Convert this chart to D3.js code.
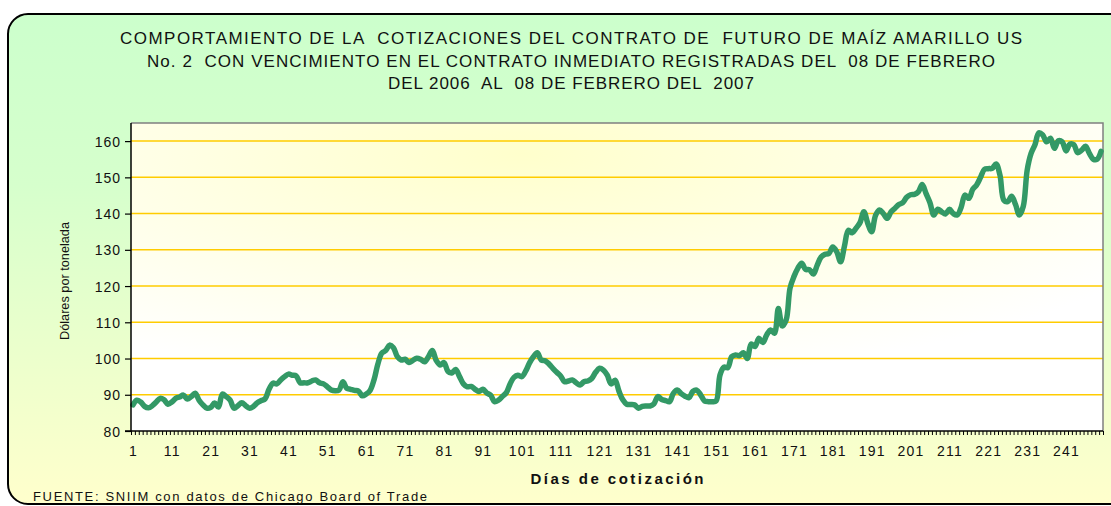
<!DOCTYPE html>
<html lang="es">
<head>
<meta charset="UTF-8">
<title>Cotizaciones maíz amarillo</title>
<style>
  body { margin: 0; overflow: hidden; background: #ffffff; }
  svg text { font-family: "Liberation Sans", Arial, sans-serif; fill: #111; white-space: pre; }
</style>
</head>
<body>
<div id="container"></div>
<script src="https://cdn.jsdelivr.net/npm/d3@7"></script>
<script>
// Title lines, as in the original chart
var titleLines = [
  "COMPORTAMIENTO DE LA  COTIZACIONES DEL CONTRATO DE  FUTURO DE MAÍZ AMARILLO US",
  "No. 2  CON VENCIMIENTO EN EL CONTRATO INMEDIATO REGISTRADAS DEL  08 DE FEBRERO",
  "DEL 2006  AL  08 DE FEBRERO DEL  2007"
];

// Price in dollars per tonne, one value per trading day
var prices = [
  87.2, 88.5, 88.0, 86.8, 86.4, 87.0, 88.0, 89.0, 88.6, 87.4,
  88.0, 89.0, 89.4, 89.9, 88.8, 89.5, 90.4, 88.5, 87.2, 86.3,
  86.5, 87.7, 86.6, 90.2, 89.5, 88.5, 86.3, 87.0, 87.8, 87.0,
  86.3, 86.8, 87.8, 88.4, 88.9, 91.5, 93.2, 93.0, 94.1, 95.0,
  95.7, 95.4, 95.2, 93.3, 93.3, 93.3, 93.8, 94.1, 93.3, 93.0,
  92.2, 91.3, 91.1, 91.3, 93.6, 91.8, 91.5, 91.2, 91.0, 89.7,
  90.2, 91.2, 94.1, 98.5, 101.5, 102.2, 103.7, 103.0, 100.5, 99.6,
  99.8, 98.9, 99.5, 100.1, 99.8, 99.1, 100.5, 102.2, 99.5, 98.2,
  98.9, 96.5, 96.0, 97.0, 95.0, 93.0, 92.2, 92.3, 91.5, 90.9,
  91.5, 90.5, 89.9, 88.1, 88.5, 89.5, 90.5, 93.0, 94.8, 95.4,
  95.0, 96.5, 98.8, 100.5, 101.6, 99.6, 99.4, 98.5, 97.3, 96.2,
  95.2, 93.6, 93.8, 94.1, 93.3, 92.7, 93.6, 93.8, 94.5, 96.2,
  97.3, 96.8, 95.4, 93.0, 94.0, 91.0, 88.6, 87.4, 87.3, 87.2,
  86.3, 86.8, 86.9, 86.9, 87.5, 89.5, 88.7, 88.4, 88.1, 90.4,
  91.3, 90.3, 89.6, 89.2, 90.9, 91.3, 90.0, 88.3, 88.1, 88.1,
  88.3, 95.5, 97.6, 97.5, 100.5, 101.0, 100.8, 101.6, 100.0, 104.0,
  103.3, 105.6, 104.4, 106.5, 107.9, 107.0, 113.8, 109.0, 110.6, 119.4,
  122.6, 124.9, 126.3, 124.6, 124.5, 123.3, 125.8, 128.0, 128.8, 129.0,
  130.8, 129.5, 126.7, 131.0, 135.4, 134.7, 136.0, 137.5, 140.5, 137.3,
  135.0, 139.5, 141.0, 140.0, 138.7, 140.5, 141.5, 142.5, 143.0, 144.5,
  145.2, 145.3, 146.0, 148.0, 145.5, 143.0, 139.6, 141.2, 140.5, 139.9,
  141.2, 140.0, 139.6, 141.7, 145.1, 144.2, 146.7, 147.9, 150.0, 152.2,
  152.4, 152.5, 153.7, 150.6, 143.7, 143.3, 144.8, 142.5, 139.6, 142.0,
  152.0, 156.6, 159.0, 162.3, 161.7, 159.8, 160.8, 158.0, 160.1, 159.8,
  157.3, 159.2, 159.0, 156.8, 157.5, 158.6, 156.6, 155.0, 155.0, 157.2
];
var days = prices.map(function (d, i) { return i + 1; });

var xTickLabels = [1, 11, 21, 31, 41, 51, 61, 71, 81, 91, 101, 111, 121,
  131, 141, 151, 161, 171, 181, 191, 201, 211, 221, 231, 241];
var yTicks = [80, 90, 100, 110, 120, 130, 140, 150, 160];

var width = 1111, height = 506;
var plot = { left: 131, right: 1103, top: 123, bottom: 431 };

var svg = d3.select("#container")
  .append("svg")
  .attr("width", width)
  .attr("height", height);

var defs = svg.append("defs");

// outer background: green at the top fading to pale yellow
var bgGrad = defs.append("linearGradient")
  .attr("id", "bgGrad")
  .attr("x1", 0).attr("y1", 0).attr("x2", 0).attr("y2", 1);
bgGrad.append("stop").attr("offset", "0%").attr("stop-color", "#ccffcc");
bgGrad.append("stop").attr("offset", "35%").attr("stop-color", "#d6ffcc");
bgGrad.append("stop").attr("offset", "100%").attr("stop-color", "#ffffcc");

// plot area: pale yellow glow fading to white
var plotGrad = defs.append("radialGradient")
  .attr("id", "plotGrad")
  .attr("cx", "40%").attr("cy", "10%").attr("r", "75%");
plotGrad.append("stop").attr("offset", "0%").attr("stop-color", "#ffffcc");
plotGrad.append("stop").attr("offset", "100%").attr("stop-color", "#ffffff");

svg.append("rect")
  .attr("x", 8).attr("y", 14)
  .attr("width", 1130).attr("height", 490)
  .attr("rx", 20).attr("ry", 20)
  .attr("fill", "url(#bgGrad)")
  .attr("stroke", "#000")
  .attr("stroke-width", 2);

svg.append("rect")
  .attr("x", plot.left).attr("y", plot.top)
  .attr("width", plot.right - plot.left)
  .attr("height", plot.bottom - plot.top)
  .attr("fill", "url(#plotGrad)");

// scales
var x = d3.scaleLinear()
  .domain([0.5, days.length + 0.5])
  .range([plot.left, plot.right]);

var y = d3.scaleLinear()
  .domain([80, 165])
  .range([plot.bottom, plot.top]);

// gridlines
svg.append("g")
  .selectAll("line")
  .data(yTicks.slice(1))
  .enter()
  .append("line")
  .attr("x1", plot.left).attr("x2", plot.right)
  .attr("y1", function (d) { return y(d); })
  .attr("y2", function (d) { return y(d); })
  .attr("stroke", "#ffcc00")
  .attr("stroke-width", 1.5);

// plot border on top and right
svg.append("path")
  .attr("d", "M" + plot.left + "," + plot.top + "H" + plot.right + "V" + plot.bottom)
  .attr("fill", "none")
  .attr("stroke", "#808080")
  .attr("stroke-width", 1.5);

// the price line
var line = d3.line()
  .x(function (d, i) { return x(days[i]); })
  .y(function (d) { return y(d); })
  .curve(d3.curveCatmullRom);

svg.append("path")
  .datum(prices)
  .attr("d", line)
  .attr("fill", "none")
  .attr("stroke", "#339966")
  .attr("stroke-width", 5.5)
  .attr("stroke-linejoin", "round")
  .attr("stroke-linecap", "round");

// y axis
var yAxis = svg.append("g")
  .attr("transform", "translate(" + plot.left + ",0)")
  .call(d3.axisLeft(y).tickValues(yTicks).tickSize(6).tickPadding(4));
yAxis.select(".domain").remove();
yAxis.append("line")
  .attr("y1", plot.top).attr("y2", plot.bottom)
  .attr("stroke", "#000").attr("stroke-width", 1.5);
yAxis.selectAll(".tick line").attr("stroke", "#000").attr("stroke-width", 1.2);
yAxis.selectAll(".tick text")
  .style("font-size", "14px")
  .style("letter-spacing", "1px")
  .attr("dy", "0.36em");

// x axis: one small tick between every trading day
var boundaries = days.map(function (d) { return d - 0.5; }).concat([days.length + 0.5]);
var xMinor = svg.append("g")
  .attr("transform", "translate(0," + plot.bottom + ")")
  .call(d3.axisBottom(x).tickValues(boundaries).tickSize(4).tickFormat(""));
xMinor.select(".domain").remove();
xMinor.selectAll(".tick line").attr("stroke", "#000").attr("stroke-width", 1);
svg.append("line")
  .attr("x1", plot.left - 6).attr("x2", plot.right)
  .attr("y1", plot.bottom).attr("y2", plot.bottom)
  .attr("stroke", "#000").attr("stroke-width", 1.5);

var xLabels = svg.append("g")
  .attr("transform", "translate(0," + plot.bottom + ")")
  .call(d3.axisBottom(x).tickValues(xTickLabels).tickSize(0).tickPadding(15));
xLabels.select(".domain").remove();
xLabels.selectAll(".tick text")
  .style("font-size", "14px")
  .style("letter-spacing", "1.2px");

// titles
svg.append("g")
  .selectAll("text")
  .data(titleLines)
  .enter()
  .append("text")
  .attr("x", 571)
  .attr("y", function (d, i) { return 44 + i * 22.5; })
  .attr("text-anchor", "middle")
  .attr("textLength", function (d, i) { return [902, 848, 366][i]; })
  .attr("lengthAdjust", "spacing")
  .attr("font-size", 17)
  .style("font-size", "17px")
  .text(function (d) { return d; });

svg.append("text")
  .attr("x", 617).attr("y", 484)
  .attr("text-anchor", "middle")
  .attr("textLength", 173)
  .attr("lengthAdjust", "spacing")
  .style("font-size", "15px")
  .style("font-weight", "bold")
  .text("Días de cotización");

svg.append("text")
  .attr("transform", "translate(69,281) rotate(-90)")
  .attr("text-anchor", "middle")
  .attr("textLength", 118)
  .attr("lengthAdjust", "spacingAndGlyphs")
  .style("font-size", "13px")
  .text("Dólares por tonelada");

svg.append("text")
  .attr("x", 33).attr("y", 501)
  .attr("textLength", 394)
  .attr("lengthAdjust", "spacing")
  .style("font-size", "13px")
  .text("FUENTE: SNIIM con datos de Chicago Board of Trade");
</script>
</body>
</html>
